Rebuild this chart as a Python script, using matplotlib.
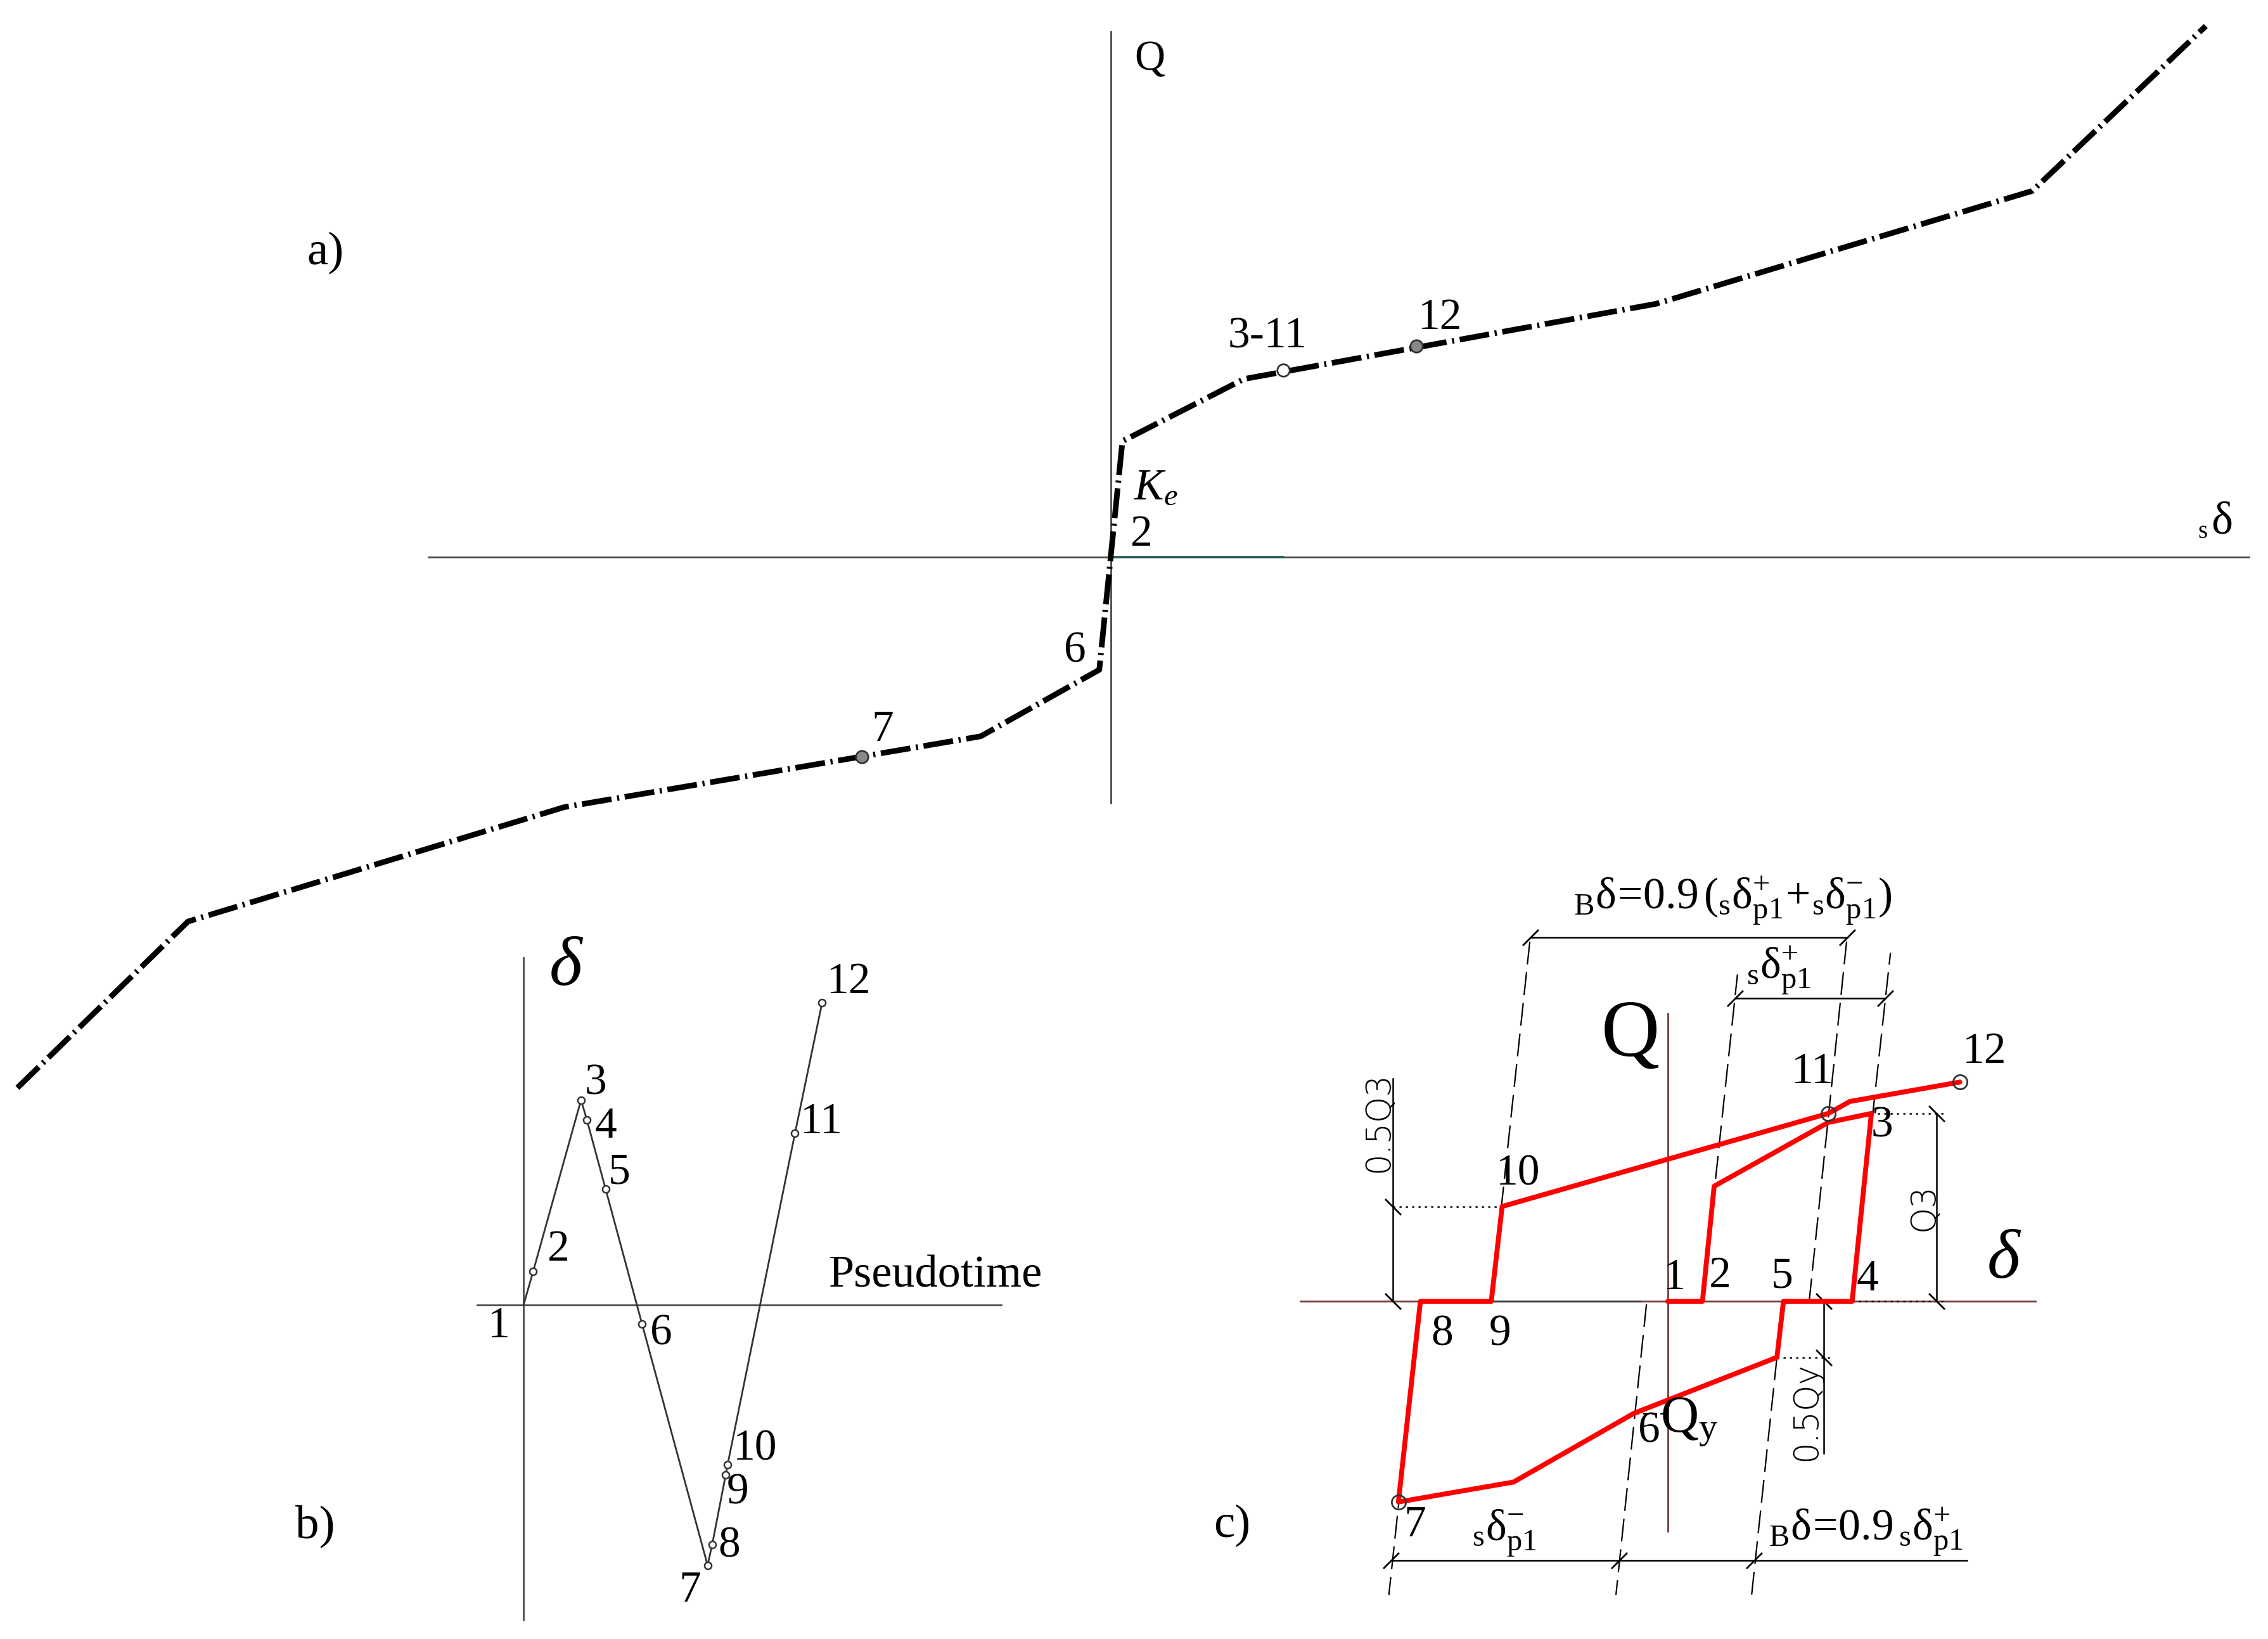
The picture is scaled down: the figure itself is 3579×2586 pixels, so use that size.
import matplotlib
matplotlib.use("Agg")
import matplotlib.pyplot as plt
from matplotlib.path import Path

plt.rcParams['font.family'] = ['Liberation Serif', 'DejaVu Serif']
plt.rcParams['mathtext.fontset'] = 'custom'
plt.rcParams['mathtext.rm'] = 'Liberation Serif'
plt.rcParams['mathtext.it'] = 'Liberation Serif:italic'
plt.rcParams['mathtext.bf'] = 'Liberation Serif:bold'
plt.rcParams['lines.scale_dashes'] = False

# ---------------- data ----------------
# Panel a: skeleton curve (delta, Q)
a_delta = [-75.6, -63.8, -37.8, -9.0, -0.8, 0.8, 9.2, 37.7, 63.7, 75.7]
a_Q = [-36.7, -25.2, -17.3, -12.4, -7.8, 8.0, 12.3, 17.5, 25.3, 36.7]
a_mark_delta = [11.9, 21.1, -17.2]
a_mark_Q = [12.9, 14.6, -13.8]
a_mark_labels = ['3-11', '12', '7']

# Panel b: displacement history (pseudotime, delta)
b_labels = ['1', '2', '3', '4', '5', '6', '7', '8', '9', '10', '11', '12']
b_time = [0.0, 0.66, 3.97, 4.37, 5.67, 8.19, 12.72, 13.04, 13.97, 14.10, 18.76, 20.64]
b_delta = [0.0, 2.31, 14.16, 12.8, 8.0, -1.33, -18.0, -16.56, -11.76, -11.06, 11.85, 20.9]

# Panel c: hysteresis path (delta, Q)
c_delta = [0.0, 2.4, 3.21, 11.1, 14.08, 12.75, 8.0, 7.55, -2.34, -10.66, -18.62,
           -17.1, -12.2, -11.45, 11.1, 12.6, 20.2]
c_Q = [0.0, 0.0, 7.96, 12.37, 12.99, 0.0, 0.0, -3.87, -7.74, -12.49, -13.87,
       0.0, 0.0, 6.56, 12.99, 13.82, 15.16]
c_mark_delta = [11.1, 20.2, -18.62]
c_mark_Q = [12.99, 15.16, -13.87]
# elastic guide lines (start, end) in (delta, Q)
c_guides = [((-12.2, 0.0), (-9.5, 25.2)),
            ((9.78, 0.0), (12.4, 25.2)),
            ((2.4, 0.0), (4.82, 22.6)),
            ((12.75, 0.0), (15.4, 24.1)),
            ((-1.47, -0.2), (-3.58, -20.3)),
            ((-17.1, 0.0), (-19.28, -20.3)),
            ((7.55, -3.87), (5.8, -20.3))]

# ---------------- figure ----------------
W, H = 1568.0, 1133.0
fig = plt.figure(figsize=(3579 / 200, 2586 / 200), dpi=200)
fig.patch.set_facecolor('white')


def overlay(ox, oy, scale=10.0):
    ax = fig.add_axes([0, 0, 1, 1])
    ax.set_xlim(-ox / scale, (W - ox) / scale)
    ax.set_ylim((oy - H) / scale, oy / scale)
    ax.axis('off')
    return ax


def lab(ax, x, y, s, size=24, **kw):
    kw.setdefault('ha', 'center')
    kw.setdefault('va', 'center')
    ax.text(x, y, s, fontsize=size, **kw)


tick_f = Path([(-1, -1), (1, 1)], [Path.MOVETO, Path.LINETO])
tick_b = Path([(-1, 1), (1, -1)], [Path.MOVETO, Path.LINETO])
axis_gray = '#4a4a4a'

# ======== Panel a ========
axa = overlay(768, 385)
axa.plot([0, 0], [-17.0, 36.3], color=axis_gray, lw=1.0)
axa.plot([-47.2, 78.7], [0, 0], color=axis_gray, lw=1.0)
axa.plot([0, a_mark_delta[0]], [0, 0], color='#1f5a5a', lw=1.3)
axa.plot(a_delta, a_Q, color='black', lw=3.2, dashes=[17, 3.2, 1.2, 3.2],
         dash_capstyle='butt', solid_joinstyle='miter')
axa.plot(a_mark_delta[:1], a_mark_Q[:1], 'o', ms=7, mfc='white', mec='#333333', mew=1.0)
axa.plot(a_mark_delta[1:], a_mark_Q[1:], 'o', ms=7, mfc='#888888', mec='#333333', mew=1.0)
lab(axa, 10.8, 15.2, a_mark_labels[0], size=25)
lab(axa, 22.75, 16.5, a_mark_labels[1], size=25)
lab(axa, -15.8, -12.0, a_mark_labels[2], size=25)
lab(axa, 2.1, 1.5, '2', size=25)
lab(axa, -2.5, -6.55, '6', size=25)
lab(axa, 3.1, 4.75, r'$K_e$', size=25)
lab(axa, 2.7, 34.4, 'Q', size=24)
lab(axa, 75.5, 1.7, 's', size=14)
lab(axa, 76.8, 2.4, 'δ', size=26)
lab(axa, -54.3, 21.0, 'a)', size=27)

# ======== Panel b ========
axb = overlay(362, 902)
axb.plot([0, 0], [-21.8, 24.0], color=axis_gray, lw=1.0)
axb.plot([-3.2, 33.0], [0, 0], color=axis_gray, lw=1.0)
axb.plot(b_time, b_delta, color='#333333', lw=1.0)
axb.plot(b_time[1:], b_delta[1:], 'o', ms=4, mfc='white', mec='#333333', mew=0.9)
b_lab_pos = [(-1.7, -1.5), (2.4, 3.8), (5.0, 15.3), (5.7, 12.3), (6.6, 9.1),
             (9.5, -2.0), (11.5, -19.8), (14.2, -16.7), (14.8, -13.0), (16.0, -10.0),
             (20.6, 12.6), (22.5, 22.3)]
for s, (x, y) in zip(b_labels, b_lab_pos):
    lab(axb, x, y, s, size=25)
lab(axb, 2.9, 23.3, 'δ', size=40, style='italic')
lab(axb, 21.1, 2.0, 'Pseudotime', size=26, ha='left')
lab(axb, -14.4, -15.3, 'b)', size=27)

# ======== Panel c ========
axc = overlay(1153, 899.6)
axis_red = '#6e3b3b'
axc.plot([-25.4, 25.4], [0, 0], color=axis_red, lw=1.0)
axc.plot([0, 0], [-15.9, 19.9], color=axis_red, lw=1.0)
axc.plot([-12.2, -1.9], [0, 0], color='#333333', lw=1.0)

# guide lines
for (x0, y0), (x1, y1) in c_guides:
    axc.plot([x0, x1], [y0, y1], color='black', lw=0.8, dashes=[13, 4.5])

# dotted leaders
dot = dict(color='black', lw=0.9, dashes=[1.2, 2.4])
axc.plot([-19.0, -11.45], [6.56, 6.56], **dot)
axc.plot([14.08, 19.2], [12.99, 12.99], **dot)
axc.plot([12.75, 19.2], [0, 0], **dot)
axc.plot([7.55, 11.3], [-3.87, -3.87], **dot)
axc.plot([-2.34, 0.0], [-7.74, -7.74], color='black', lw=0.9, dashes=[3, 2])

# dimension lines
dim = dict(color='black', lw=0.9)
tk = dict(ls='none', color='black', ms=9, mew=1.0)
axc.plot([-9.5, 12.4], [25.16, 25.16], **dim)
axc.plot([-9.5, 12.4], [25.16, 25.16], marker=tick_f, **tk)
axc.plot([4.67, 15.04], [20.96, 20.96], **dim)
axc.plot([4.67, 15.04], [20.96, 20.96], marker=tick_f, **tk)
axc.plot([-19.13, 20.7], [-17.89, -17.89], **dim)
axc.plot([-19.13, -3.36, 5.95], [-17.89, -17.89, -17.89], marker=tick_f, **tk)
axc.plot([-19.0, -19.0], [15.4, 0.0], **dim)
axc.plot([-19.0, -19.0], [6.56, 0.0], marker=tick_b, **tk)
axc.plot([18.6, 18.6], [12.99, 0.0], **dim)
axc.plot([18.6, 18.6], [12.99, 0.0], marker=tick_b, **tk)
axc.plot([10.78, 10.78], [0.0, -10.5], **dim)
axc.plot([10.78, 10.78], [0.0, -3.87], marker=tick_b, **tk)

# red hysteresis path
axc.plot(c_delta, c_Q, color='#ff0000', lw=2.8, solid_joinstyle='round',
         solid_capstyle='round')
axc.plot(c_mark_delta, c_mark_Q, 'o', ms=8, mfc='none', mec='#333333', mew=1.0)

sans = dict(family='DejaVu Sans', fontweight='light')
lab(axc, -20.0, 12.4, '0.5Q3', size=19, rotation=90, **sans)
lab(axc, 17.7, 6.5, 'Q3', size=19, rotation=90, **sans)
lab(axc, 9.6, -7.6, '0.5Qy', size=19, rotation=90, **sans)

lab(axc, 4.5, 25.9,
    r'${}_{\mathrm{B}}\mathrm{δ}\!=\!0.9\,({}_{\mathrm{s}}\mathrm{δ}^{+}_{\mathrm{p1}}\!+\!{}_{\mathrm{s}}\mathrm{δ}^{-}_{\mathrm{p1}})$',
    size=25, va='bottom')
lab(axc, 7.7, 21.1, r'${}_{\mathrm{s}}\mathrm{δ}^{+}_{\mathrm{p1}}$', size=25, va='bottom')
lab(axc, -11.3, -17.75, r'${}_{\mathrm{s}}\mathrm{δ}^{-}_{\mathrm{p1}}$', size=25, va='bottom')
lab(axc, 13.7, -17.75, r'${}_{\mathrm{B}}\mathrm{δ}\!=\!0.9\,{}_{\mathrm{s}}\mathrm{δ}^{+}_{\mathrm{p1}}$',
    size=25, va='bottom')

c_lab = [('10', -10.35, 8.8), ('11', 10.0, 15.8), ('12', 21.9, 17.2), ('3', 14.8, 12.1),
         ('1', 0.45, 1.6), ('2', 3.6, 1.7), ('5', 7.9, 1.7), ('4', 13.8, 1.5),
         ('8', -15.6, -2.3), ('9', -11.6, -2.3), ('6', -1.3, -9.0), ('7', -17.5, -15.5)]
for s, x, y in c_lab:
    lab(axc, x, y, s, size=25)
lab(axc, 1.5, -8.3, r'$\mathrm{Q}_{\mathrm{y}}$', size=30)
lab(axc, -2.6, 18.3, 'Q', size=46)
lab(axc, 23.2, 2.8, 'δ', size=40, style='italic')
lab(axc, -30.1, -15.5, 'c)', size=27)

fig.savefig('out.png', dpi=200, facecolor='white')
